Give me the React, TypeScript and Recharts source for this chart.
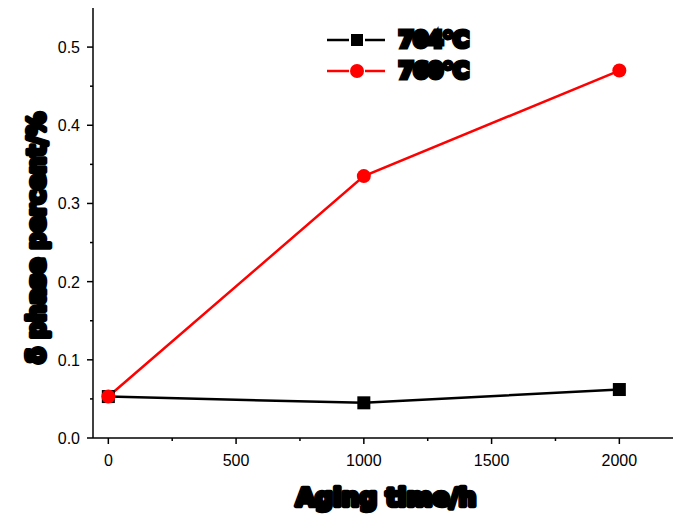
import React from "react";
import { LineChart, Line, XAxis, YAxis } from "recharts";

const agingTime = [0, 1000, 2000];
const t704 = [0.053, 0.045, 0.062];
const t760 = [0.053, 0.335, 0.47];
const xTicks = [0, 250, 500, 750, 1000, 1250, 1500, 1750, 2000];
const xLabeled = [0, 500, 1000, 1500, 2000];
const yTicks = [0, 0.05, 0.1, 0.15, 0.2, 0.25, 0.3, 0.35, 0.4, 0.45, 0.5];

const data = agingTime.map((t, i) => ({ t, a: t704[i], b: t760[i] }));

const heavy = {
  fontFamily: "DejaVu Sans",
  fontWeight: 700,
  fill: "#000",
  stroke: "#000",
  strokeWidth: 4.5,
  strokeLinejoin: "round" as const,
};

const legendItems = [
  { name: "704°C", color: "#000", shape: "square" },
  { name: "760°C", color: "#ff0000", shape: "circle" },
];

function LegendBox() {
  return (
    <div style={{ position: "absolute", left: 327, top: 24 }}>
      {legendItems.map((it) => (
        <div key={it.name} style={{ display: "flex", alignItems: "center", height: 31 }}>
          <svg width={60} height={20}>
            <line x1={0} y1={10} x2={22} y2={10} stroke={it.color} strokeWidth={2.5} />
            <line x1={38} y1={10} x2={58} y2={10} stroke={it.color} strokeWidth={2.5} />
            {it.shape === "square" ? (
              <rect x={24} y={4} width={12} height={12} fill={it.color} />
            ) : (
              <circle cx={30} cy={10} r={7} fill={it.color} />
            )}
          </svg>
          <span
            style={{
              marginLeft: 12,
              fontFamily: "DejaVu Sans",
              fontWeight: 700,
              fontSize: 21,
              WebkitTextStroke: "5px #000",
              color: "#000",
              lineHeight: "22px",
            }}
          >
            {it.name}
          </span>
        </div>
      ))}
    </div>
  );
}

const font = "Liberation Sans, Arial";

const XTick = (p: any) => {
  const v = p.payload.value;
  const major = xLabeled.includes(v);
  return (
    <g>
      <line x1={p.x} y1={p.y} x2={p.x} y2={p.y + (major ? 6 : 3)} stroke="#000" strokeWidth={1.5} />
      {major && (
        <text x={p.x} y={p.y + 28} textAnchor="middle" fontFamily={font} fontSize={16} fill="#000">
          {v}
        </text>
      )}
    </g>
  );
};

const YTick = (p: any) => {
  const v = p.payload.value;
  const major = Math.abs(v * 10 - Math.round(v * 10)) < 1e-6;
  return (
    <g>
      <line x1={p.x} y1={p.y} x2={p.x - (major ? 6 : 3)} y2={p.y} stroke="#000" strokeWidth={1.5} />
      {major && (
        <text x={p.x - 13} y={p.y + 6} textAnchor="end" fontFamily={font} fontSize={16} fill="#000">
          {v.toFixed(1)}
        </text>
      )}
    </g>
  );
};

const TopTick = (p: any) => (
  <line x1={p.x} y1={p.y} x2={p.x} y2={p.y + 4} stroke="#000" strokeWidth={1} />
);

export default function App() {
  return (
    <div style={{ position: "absolute", left: 0, top: 0, width: 673, height: 520, background: "#fff" }}>
      <LineChart width={673} height={520} data={data} margin={{ top: 8, right: 0, bottom: 0, left: 0 }}>
        <XAxis
          xAxisId="top"
          orientation="top"
          dataKey="t"
          type="number"
          domain={[-60, 2210]}
          ticks={xLabeled}
          tick={<TopTick />}
          tickLine={false}
          tickSize={0}
          tickMargin={0}
          height={0}
          stroke="#000"
          strokeWidth={1.5}
          allowDataOverflow
        />
        <XAxis
          dataKey="t"
          type="number"
          domain={[-60, 2210]}
          ticks={xTicks}
          tick={<XTick />}
          tickLine={false}
          tickSize={0}
          tickMargin={0}
          height={82}
          stroke="#000"
          strokeWidth={1.5}
          allowDataOverflow
          label={{
            content: () => (
              <text x={386} y={506} textAnchor="middle" fontSize={25} style={heavy}>
                Aging time/h
              </text>
            ),
          }}
        />
        <YAxis
          type="number"
          domain={[0, 0.55]}
          ticks={yTicks}
          tick={<YTick />}
          tickLine={false}
          tickSize={0}
          tickMargin={0}
          width={93}
          stroke="#000"
          strokeWidth={1.5}
          label={{
            content: () => (
              <text
                x={0}
                y={0}
                transform="translate(45 238) rotate(-90)"
                textAnchor="middle"
                fontSize={24}
                style={heavy}
              >
                δ phase percent/%
              </text>
            ),
          }}
        />
        <Line
          dataKey="a"
          name="704°C"
          stroke="#000"
          strokeWidth={2.5}
          isAnimationActive={false}
          dot={(p: any) => (
            <rect key={`a${p.index}`} x={p.cx - 6.5} y={p.cy - 6.5} width={13} height={13} fill="#000" />
          )}
        />
        <Line
          dataKey="b"
          name="760°C"
          stroke="#ff0000"
          strokeWidth={2.5}
          isAnimationActive={false}
          dot={{ r: 7, fill: "#ff0000", stroke: "#ff0000", strokeWidth: 0 }}
        />
      </LineChart>
      <LegendBox />
    </div>
  );
}
